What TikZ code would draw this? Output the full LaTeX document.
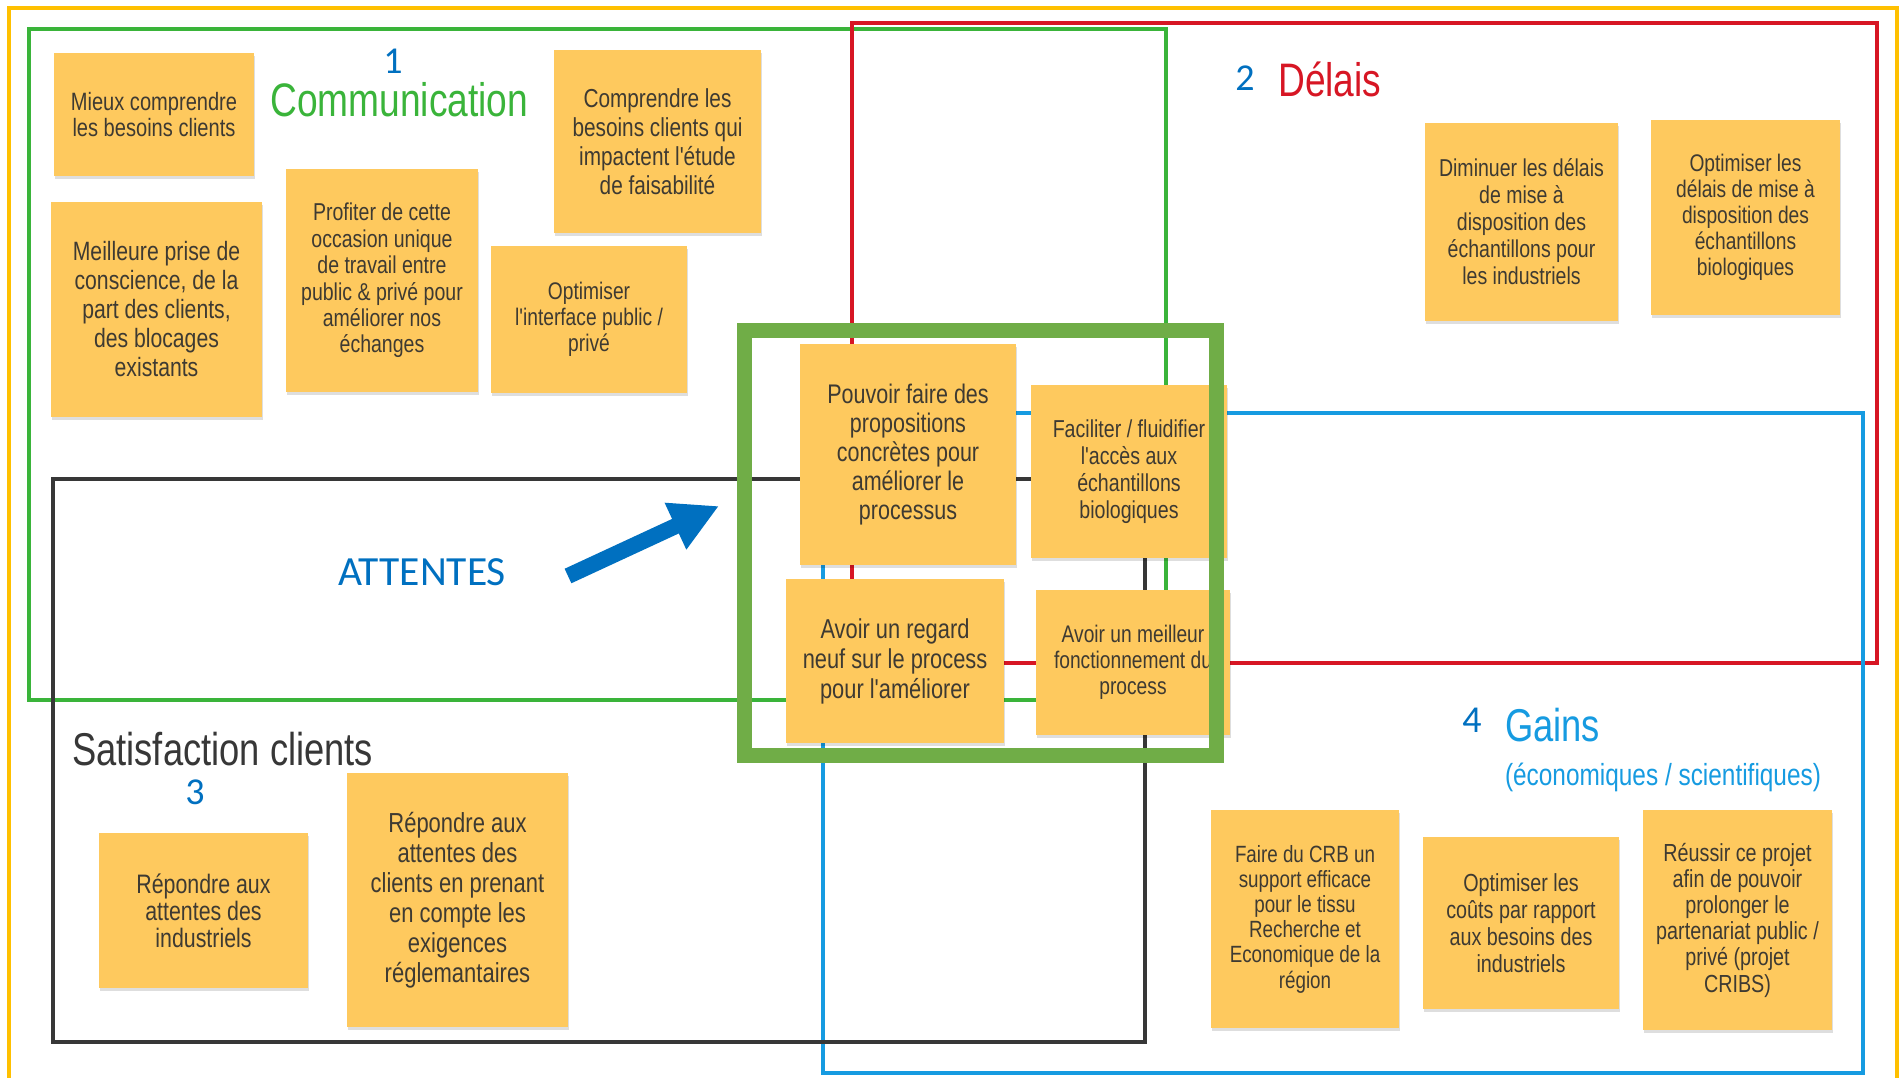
\documentclass[tikz,border=0pt]{standalone}
\usepackage{fontspec}
\setmainfont{Liberation Sans}
\newfontfamily\notefont[FakeStretch=0.8]{Liberation Sans}
\newfontfamily\titlefont[FakeStretch=0.79]{Liberation Sans}
\newfontfamily\calfont{Carlito}
\usetikzlibrary{arrows.meta,shadows}
\definecolor{frameyellow}{RGB}{255,192,0}
\definecolor{commgreen}{RGB}{58,180,58}
\definecolor{delred}{RGB}{215,22,36}
\definecolor{gainblue}{RGB}{22,155,225}
\definecolor{satgray}{RGB}{55,55,55}
\definecolor{attgreen}{RGB}{112,173,71}
\definecolor{numblue}{RGB}{0,112,192}
\definecolor{notefill}{RGB}{254,201,94}
\definecolor{notetext}{RGB}{62,58,50}
\begin{document}
\begin{tikzpicture}[x=1pt,y=-1pt,
  note/.style={fill=notefill, draw=none, align=center, inner sep=0pt,
    text=notetext, font=\notefont\fontsize{24pt}{27pt}\selectfont,
    general shadow={fill=black, opacity=0.13, shadow xshift=1pt, shadow yshift=-3pt}},
  fs/.style 2 args={font=\notefont\fontsize{#1pt}{#2pt}\selectfont},
  zone/.style={line width=4pt},
  title/.style={font=\titlefont\fontsize{47pt}{50pt}\selectfont, inner sep=0pt},
  num/.style={font=\calfont\fontsize{38pt}{40pt}\selectfont, text=numblue, inner sep=0pt},
  attarrow/.style={draw=numblue, line width=16pt, -{Triangle[length=48pt,width=48pt]}}
]
\useasboundingbox (0,0) rectangle (1900,1078);
\fill[white] (0,0) rectangle (1900,1078);

% outer yellow frame
\draw[frameyellow, line width=4pt] (9,1078) -- (9,8) -- (1897,8) -- (1897,1078);

% zones
\draw[zone, commgreen] (29,29) rectangle (1166,700);
\draw[zone, delred, line width=4.5pt] (852,23) rectangle (1877,663);
\draw[zone, gainblue] (823,413) rectangle (1863,1073);
\draw[zone, satgray, line width=4.5pt] (53,479) rectangle (1145,1042);

% notes - Communication
\node[note, fs={25.1}{26.7}, minimum width=200pt, minimum height=123pt] (n1) at (154,114.5) {Mieux comprendre\\les besoins clients};
\node[note, fs={26.5}{29}, minimum width=211pt, minimum height=215pt] (n2) at (156.5,309.5) {Meilleure prise de\\conscience, de la\\part des clients,\\des blocages\\existants};
\node[note, fs={24.4}{26.4}, minimum width=192pt, minimum height=223pt] (n3) at (382,280.5) {Profiter de cette\\occasion unique\\de travail entre\\public \& privé pour\\améliorer nos\\échanges};
\node[note, fs={26}{29}, minimum width=207pt, minimum height=183pt] (n4) at (657.5,141.5) {Comprendre les\\besoins clients qui\\impactent l'étude\\de faisabilité};
\node[note, fs={24}{26}, minimum width=196pt, minimum height=147pt] (n5) at (589,319.5) {Optimiser\\l'interface public /\\privé};

% notes - Délais
\node[note, fs={24.4}{27}, minimum width=193pt, minimum height=198pt] (n6) at (1521.5,222) {Diminuer les délais\\de mise à\\disposition des\\échantillons pour\\les industriels};
\node[note, fs={24}{26}, minimum width=189pt, minimum height=195pt] (n7) at (1745.5,217.5) {Optimiser les\\délais de mise à\\disposition des\\échantillons\\biologiques};

% notes - Attentes (centre)
\node[note, fs={26.9}{29}, minimum width=216pt, minimum height=221pt] (n8) at (908,454.5) {Pouvoir faire des\\propositions\\concrètes pour\\améliorer le\\processus};
\node[note, fs={24.5}{27}, minimum width=196pt, minimum height=173pt] (n9) at (1129,471.5) {Faciliter / fluidifier\\l'accès aux\\échantillons\\biologiques};
\node[note, fs={27.3}{30}, minimum width=218pt, minimum height=164pt] (n10) at (895,661) {Avoir un regard\\neuf sur le process\\pour l'améliorer};
\node[note, fs={24}{26}, minimum width=194pt, minimum height=145pt] (n11) at (1133,662.5) {Avoir un meilleur\\fonctionnement du\\process};

% notes - Satisfaction clients
\node[note, fs={26.7}{27}, minimum width=209pt, minimum height=155pt] (n12) at (203.5,910.5) {Répondre aux\\attentes des\\industriels};
\node[note, fs={27.5}{30}, minimum width=221pt, minimum height=254pt] (n13) at (457.5,900) {Répondre aux\\attentes des\\clients en prenant\\en compte les\\exigences\\réglemantaires};

% notes - Gains
\node[note, fs={23.5}{25.2}, minimum width=188pt, minimum height=218pt] (n14) at (1305,919) {Faire du CRB un\\support efficace\\pour le tissu\\Recherche et\\Economique de la\\région};
\node[note, fs={24.7}{27}, minimum width=196pt, minimum height=172pt] (n15) at (1521,923) {Optimiser les\\coûts par rapport\\aux besoins des\\industriels};
\node[note, fs={24.7}{26.2}, minimum width=189pt, minimum height=220pt] (n16) at (1737.5,920) {Réussir ce projet\\afin de pouvoir\\prolonger le\\partenariat public /\\privé (projet\\CRIBS)};

% thick green "attentes" frame
\draw[attgreen, line width=15pt] (744.5,330.5) rectangle (1216.5,755);

% arrow
\coordinate (arrowtail) at (568,576);
\coordinate (arrowtip) at (719,506);
\draw[attarrow] (arrowtail) -- (arrowtip);
\node[font=\calfont\fontsize{41.5pt}{43pt}\selectfont, text=numblue, inner sep=0pt] (att) at (422,572) {ATTENTES};

% titles and numbers
\node[num] (num1) at (393,61) {1};
\node[title, text=commgreen, anchor=base west] (tcomm) at (270,117) {Communication};
\node[num] (num2) at (1245,78) {2};
\node[title, text=delred, anchor=base west] (tdel) at (1278,97) {Délais};
\node[title, text=satgray, anchor=base west, font=\titlefont\fontsize{46pt}{50pt}\selectfont] (tsat) at (72,765) {Satisfaction clients};
\node[num] (num3) at (195,792) {3};
\node[num] (num4) at (1472,720) {4};
\node[title, text=gainblue, anchor=base west, font=\titlefont\fontsize{46pt}{50pt}\selectfont] (tgain) at (1505,741) {Gains};
\node[text=gainblue, inner sep=0pt, font=\notefont\fontsize{30.5pt}{33pt}\selectfont] (tgainsub) at (1663,777) {(économiques / scientifiques)};
\end{tikzpicture}
\end{document}
